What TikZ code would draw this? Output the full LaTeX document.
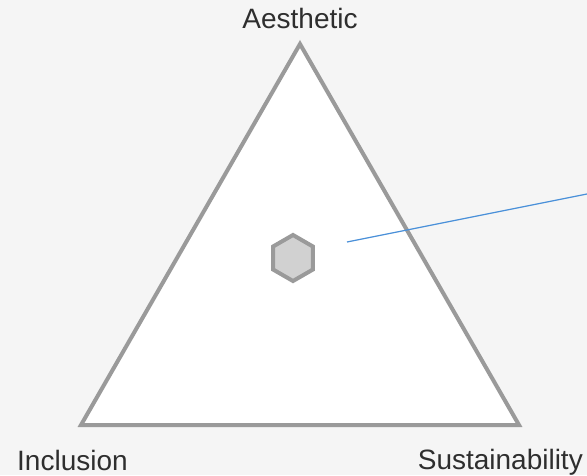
\documentclass[tikz,border=0pt]{standalone}
\usepackage{fontspec}
\setmainfont{Liberation Sans}
\usetikzlibrary{shapes.geometric}
\definecolor{paper}{HTML}{F5F5F5}
\definecolor{edgegray}{HTML}{9A9A9A}
\definecolor{pointer}{HTML}{4A90D9}

\begin{document}
\begin{tikzpicture}[x=1pt, y=-1pt, font=\fontsize{28}{31}\selectfont,
  lbl/.style={text=black!82, inner sep=0pt},
  hexa/.style={regular polygon, regular polygon sides=6, shape border rotate=30, minimum size=46pt, draw=edgegray, fill=black!18, line width=4pt}]
\useasboundingbox[fill=paper] (0,0) rectangle (587,475);
\coordinate (top) at (300,44);
\coordinate (left) at (81,425);
\coordinate (right) at (519,425);
\draw[edgegray, fill=white, line width=4pt] (top) -- (left) -- (right) -- cycle;
\node[hexa] (mark) at (293,258) {};
\node[lbl, anchor=base] (aesthetic) at (300,28) {Aesthetic};
\node[lbl, anchor=base west] (inclusion) at (17,470) {Inclusion};
\node[lbl, anchor=base east] (sustain) at (583,469) {Sustainability};
\coordinate (tip) at (347,242);
\coordinate (out) at (587,194);
\draw[pointer, line width=1.2pt] (tip) -- (out);
\end{tikzpicture}
\end{document}
